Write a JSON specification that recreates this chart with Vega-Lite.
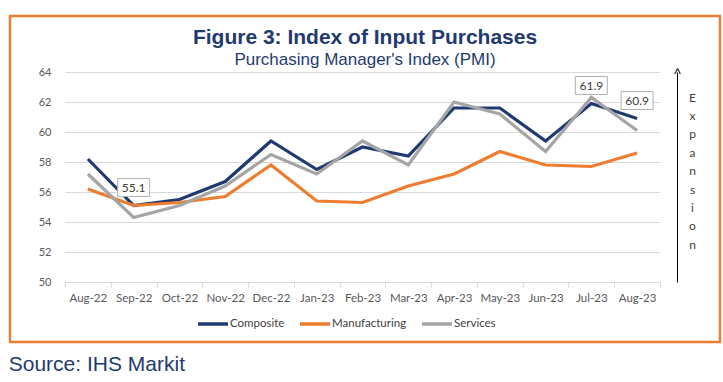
{
  "$schema": "https://vega.github.io/schema/vega-lite/v6.json",
  "background": "white",
  "padding": {"left": 8, "top": 14, "right": 4, "bottom": 4},
  "title": {"text": "Source: IHS Markit", "orient": "bottom", "anchor": "start", "fontSize": 21, "font": "Liberation Sans", "fontWeight": "normal", "color": "#1F3A70", "offset": 11},
  "datasets": {
    "pmi": [
      {"month": "Aug-22", "series": "Composite", "value": 58.2},
      {"month": "Sep-22", "series": "Composite", "value": 55.1},
      {"month": "Oct-22", "series": "Composite", "value": 55.5},
      {"month": "Nov-22", "series": "Composite", "value": 56.7},
      {"month": "Dec-22", "series": "Composite", "value": 59.4},
      {"month": "Jan-23", "series": "Composite", "value": 57.5},
      {"month": "Feb-23", "series": "Composite", "value": 59.0},
      {"month": "Mar-23", "series": "Composite", "value": 58.4},
      {"month": "Apr-23", "series": "Composite", "value": 61.6},
      {"month": "May-23", "series": "Composite", "value": 61.6},
      {"month": "Jun-23", "series": "Composite", "value": 59.4},
      {"month": "Jul-23", "series": "Composite", "value": 61.9},
      {"month": "Aug-23", "series": "Composite", "value": 60.9},
      {"month": "Aug-22", "series": "Manufacturing", "value": 56.2},
      {"month": "Sep-22", "series": "Manufacturing", "value": 55.1},
      {"month": "Oct-22", "series": "Manufacturing", "value": 55.3},
      {"month": "Nov-22", "series": "Manufacturing", "value": 55.7},
      {"month": "Dec-22", "series": "Manufacturing", "value": 57.8},
      {"month": "Jan-23", "series": "Manufacturing", "value": 55.4},
      {"month": "Feb-23", "series": "Manufacturing", "value": 55.3},
      {"month": "Mar-23", "series": "Manufacturing", "value": 56.4},
      {"month": "Apr-23", "series": "Manufacturing", "value": 57.2},
      {"month": "May-23", "series": "Manufacturing", "value": 58.7},
      {"month": "Jun-23", "series": "Manufacturing", "value": 57.8},
      {"month": "Jul-23", "series": "Manufacturing", "value": 57.7},
      {"month": "Aug-23", "series": "Manufacturing", "value": 58.6},
      {"month": "Aug-22", "series": "Services", "value": 57.2},
      {"month": "Sep-22", "series": "Services", "value": 54.3},
      {"month": "Oct-22", "series": "Services", "value": 55.1},
      {"month": "Nov-22", "series": "Services", "value": 56.4},
      {"month": "Dec-22", "series": "Services", "value": 58.5},
      {"month": "Jan-23", "series": "Services", "value": 57.2},
      {"month": "Feb-23", "series": "Services", "value": 59.4},
      {"month": "Mar-23", "series": "Services", "value": 57.8},
      {"month": "Apr-23", "series": "Services", "value": 62.0},
      {"month": "May-23", "series": "Services", "value": 61.2},
      {"month": "Jun-23", "series": "Services", "value": 58.7},
      {"month": "Jul-23", "series": "Services", "value": 62.3},
      {"month": "Aug-23", "series": "Services", "value": 60.1}
    ],
    "callouts": [
      {"month": "Sep-22", "value": 55.1, "label": "55.1"},
      {"month": "Jul-23", "value": 61.9, "label": "61.9"},
      {"month": "Aug-23", "value": 60.9, "label": "60.9"}
    ]
  },
  "vconcat": [
    {
      "width": 710,
      "height": 326,
      "title": {
        "text": "Figure 3: Index of Input Purchases",
        "subtitle": "Purchasing Manager's Index (PMI)",
        "anchor": "middle",
        "frame": "group",
        "offset": -52,
        "font": "Liberation Sans",
        "fontSize": 21,
        "fontWeight": "bold",
        "color": "#1F3A70",
        "subtitleFont": "Liberation Sans",
        "subtitleFontSize": 17,
        "subtitleColor": "#1F3A70",
        "subtitlePadding": 4
      },
      "resolve": {"axis": {"y": "independent"}},
      "layer": [
        {
          "data": {"name": "pmi"},
          "mark": {"type": "line", "strokeWidth": 3.2},
          "encoding": {
            "x": {
              "field": "month", "type": "ordinal",
              "sort": ["Aug-22","Sep-22","Oct-22","Nov-22","Dec-22","Jan-23","Feb-23","Mar-23","Apr-23","May-23","Jun-23","Jul-23","Aug-23"],
              "scale": {"type": "band", "range": [55, 650], "paddingInner": 0, "paddingOuter": 0},
              "axis": {"title": null, "orient": "bottom", "offset": -60, "tickBand": "extent", "labelAngle": 0, "grid": false, "domainColor": "#D9D9D9", "tickColor": "#D9D9D9", "tickSize": 5, "labelPadding": 5, "labelFont": "Lato", "labelFontSize": 11.5, "labelColor": "#595959"}
            },
            "y": {
              "field": "value", "type": "quantitative",
              "scale": {"domain": [50, 64], "range": [266, 56], "zero": false, "nice": false},
              "axis": {"title": null, "orient": "left", "offset": -55, "values": [50, 52, 54, 56, 58, 60, 62, 64], "domain": false, "ticks": false, "tickSize": 0, "labelPadding": 14, "grid": true, "gridColor": "#D9D9D9", "gridWidth": 1, "labelFont": "Lato", "labelFontSize": 11, "labelColor": "#595959"}
            },
            "color": {
              "field": "series", "type": "nominal",
              "sort": ["Composite", "Manufacturing", "Services"],
              "scale": {"domain": ["Composite", "Manufacturing", "Services"], "range": ["#1F3A70", "#ED7D31", "#A5A5A5"]},
              "legend": {"title": null, "orient": "none", "legendX": 186, "legendY": 291, "direction": "horizontal", "symbolType": "stroke", "symbolSize": 900, "symbolStrokeWidth": 3.5, "labelFont": "Lato", "labelFontSize": 11.5, "labelColor": "#404040", "labelOffset": 0, "columnPadding": 8}
            }
          }
        },
        {
          "data": {"name": "callouts"},
          "mark": {"type": "point", "shape": "M-1,-0.56H1V0.56H-1Z", "size": 1024, "filled": true, "fill": "white", "stroke": "#B0B0B0", "strokeWidth": 1, "opacity": 1, "yOffset": -18},
          "encoding": {
            "x": {"field": "month", "type": "ordinal", "sort": ["Aug-22","Sep-22","Oct-22","Nov-22","Dec-22","Jan-23","Feb-23","Mar-23","Apr-23","May-23","Jun-23","Jul-23","Aug-23"]},
            "y": {
              "field": "value", "type": "quantitative",
              "axis": {"orient": "right", "offset": -43, "values": [64], "labelExpr": "'^'", "grid": false, "ticks": false, "tickSize": 0, "domain": true, "domainColor": "#000000", "domainWidth": 1, "labelAlign": "center", "labelPadding": 0, "labelFont": "Liberation Sans", "labelFontSize": 14, "labelColor": "#000000", "labelBaseline": "alphabetic", "labelOffset": 6,
                "title": ["E", "x", "p", "a", "n", "s", "i", "o", "n"], "titleAngle": 0, "titleAlign": "center", "titleBaseline": "middle", "titleX": 15, "titleY": 81, "titleFont": "Lato", "titleFontSize": 12, "titleFontWeight": "normal", "titleColor": "#404040", "titleLineHeight": 18.4}
            }
          }
        },
        {
          "data": {"name": "callouts"},
          "mark": {"type": "text", "font": "Lato", "fontSize": 12, "color": "#404040", "baseline": "middle", "align": "center", "yOffset": -18},
          "encoding": {
            "x": {"field": "month", "type": "ordinal", "sort": ["Aug-22","Sep-22","Oct-22","Nov-22","Dec-22","Jan-23","Feb-23","Mar-23","Apr-23","May-23","Jun-23","Jul-23","Aug-23"]},
            "y": {"field": "value", "type": "quantitative", "axis": null},
            "text": {"field": "label"}
          }
        }
      ]
    }
  ],
  "config": {
    "view": {"stroke": "#ED7D31", "strokeWidth": 2.5},
    "axis": {"labelFont": "Lato"}
  }
}
